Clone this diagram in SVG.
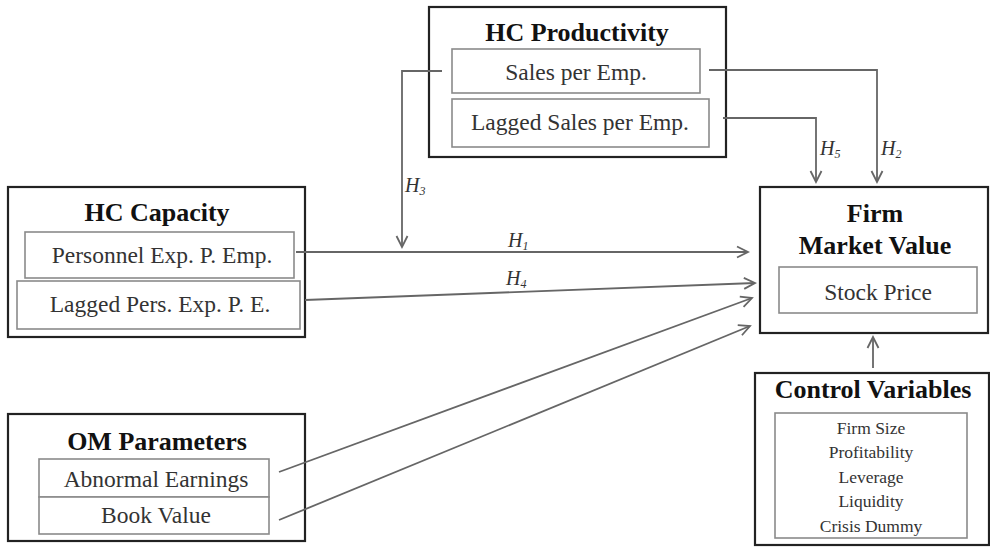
<svg xmlns="http://www.w3.org/2000/svg" width="990" height="547" viewBox="0 0 990 547">
<defs>
<style>
.outer{fill:#fff;stroke:#222;stroke-width:2.2}
.inner{fill:#fff;stroke:#8a8a8a;stroke-width:1.6}
.title{font-family:"Liberation Serif",serif;font-weight:bold;font-size:26px;fill:#111;text-anchor:middle}
.item{font-family:"Liberation Serif",serif;font-size:23.5px;fill:#333;text-anchor:middle}
.small{font-family:"Liberation Serif",serif;font-size:17.5px;fill:#333;text-anchor:middle}
.lab{font-family:"Liberation Serif",serif;font-style:italic;font-size:20px;fill:#333}
.sub{font-size:12px}
.conn{fill:none;stroke:#666;stroke-width:1.8}
</style>
<marker id="arr" markerUnits="userSpaceOnUse" markerWidth="14" markerHeight="14" viewBox="0 0 14 14" refX="12" refY="7" orient="auto">
<path d="M1,1.5 L12,7 L1,12.5" fill="none" stroke="#666" stroke-width="1.8"/>
</marker>
</defs>
<rect width="990" height="547" fill="#fff"/>

<g id="hc-productivity">
<rect class="outer" x="429" y="7" width="297" height="150"/>
<text class="title" x="577" y="41">HC Productivity</text>
<rect class="inner" x="452" y="49" width="248" height="44"/>
<text class="item" x="576" y="80">Sales per Emp.</text>
<rect class="inner" x="452" y="99" width="257" height="48"/>
<text class="item" x="580" y="130">Lagged Sales per Emp.</text>
</g>

<g id="hc-capacity">
<rect class="outer" x="8" y="187" width="297" height="150"/>
<text class="title" x="157" y="221">HC Capacity</text>
<rect class="inner" x="25" y="232" width="269" height="46"/>
<text class="item" x="162" y="263">Personnel Exp. P. Emp.</text>
<rect class="inner" x="17" y="281" width="283" height="48"/>
<text class="item" x="160" y="312">Lagged Pers. Exp. P. E.</text>
</g>

<g id="om-parameters">
<rect class="outer" x="8" y="414" width="297" height="127"/>
<text class="title" x="157" y="450">OM Parameters</text>
<rect class="inner" x="39" y="459" width="230" height="38"/>
<text class="item" x="156" y="487">Abnormal Earnings</text>
<rect class="inner" x="39" y="497" width="230" height="37"/>
<text class="item" x="156" y="523">Book Value</text>
</g>

<g id="firm-market-value">
<rect class="outer" x="760" y="187" width="228" height="146"/>
<text class="title" x="875" y="222">Firm</text>
<text class="title" x="875" y="254">Market Value</text>
<rect class="inner" x="779" y="267" width="198" height="46"/>
<text class="item" x="878" y="300">Stock Price</text>
</g>

<g id="control-variables">
<rect class="outer" x="755" y="373" width="234" height="172"/>
<text class="title" x="873" y="398">Control Variables</text>
<rect class="inner" x="775" y="413" width="192" height="125"/>
<text class="small" x="871" y="434">Firm Size</text>
<text class="small" x="871" y="458">Profitability</text>
<text class="small" x="871" y="483">Leverage</text>
<text class="small" x="871" y="507">Liquidity</text>
<text class="small" x="871" y="532">Crisis Dummy</text>
</g>

<g id="connectors">
<line class="conn" x1="296" y1="252" x2="748" y2="252" marker-end="url(#arr)"/>
<line class="conn" x1="305" y1="300" x2="755" y2="283" marker-end="url(#arr)"/>
<line class="conn" x1="279" y1="472" x2="752" y2="298" marker-end="url(#arr)"/>
<line class="conn" x1="279" y1="520" x2="750" y2="326" marker-end="url(#arr)"/>
<polyline class="conn" points="442,71 402,71 402,247" marker-end="url(#arr)"/>
<polyline class="conn" points="709,70 877,70 877,182" marker-end="url(#arr)"/>
<polyline class="conn" points="723,118 816,118 816,182" marker-end="url(#arr)"/>
<line class="conn" x1="873" y1="368" x2="873" y2="337" marker-end="url(#arr)"/>
<text class="lab" x="508" y="247">H<tspan class="sub" dy="3">1</tspan></text>
<text class="lab" x="506" y="285">H<tspan class="sub" dy="3">4</tspan></text>
<text class="lab" x="405" y="192">H<tspan class="sub" dy="3">3</tspan></text>
<text class="lab" x="820" y="155">H<tspan class="sub" dy="3">5</tspan></text>
<text class="lab" x="881" y="155">H<tspan class="sub" dy="3">2</tspan></text>
</g>
</svg>
